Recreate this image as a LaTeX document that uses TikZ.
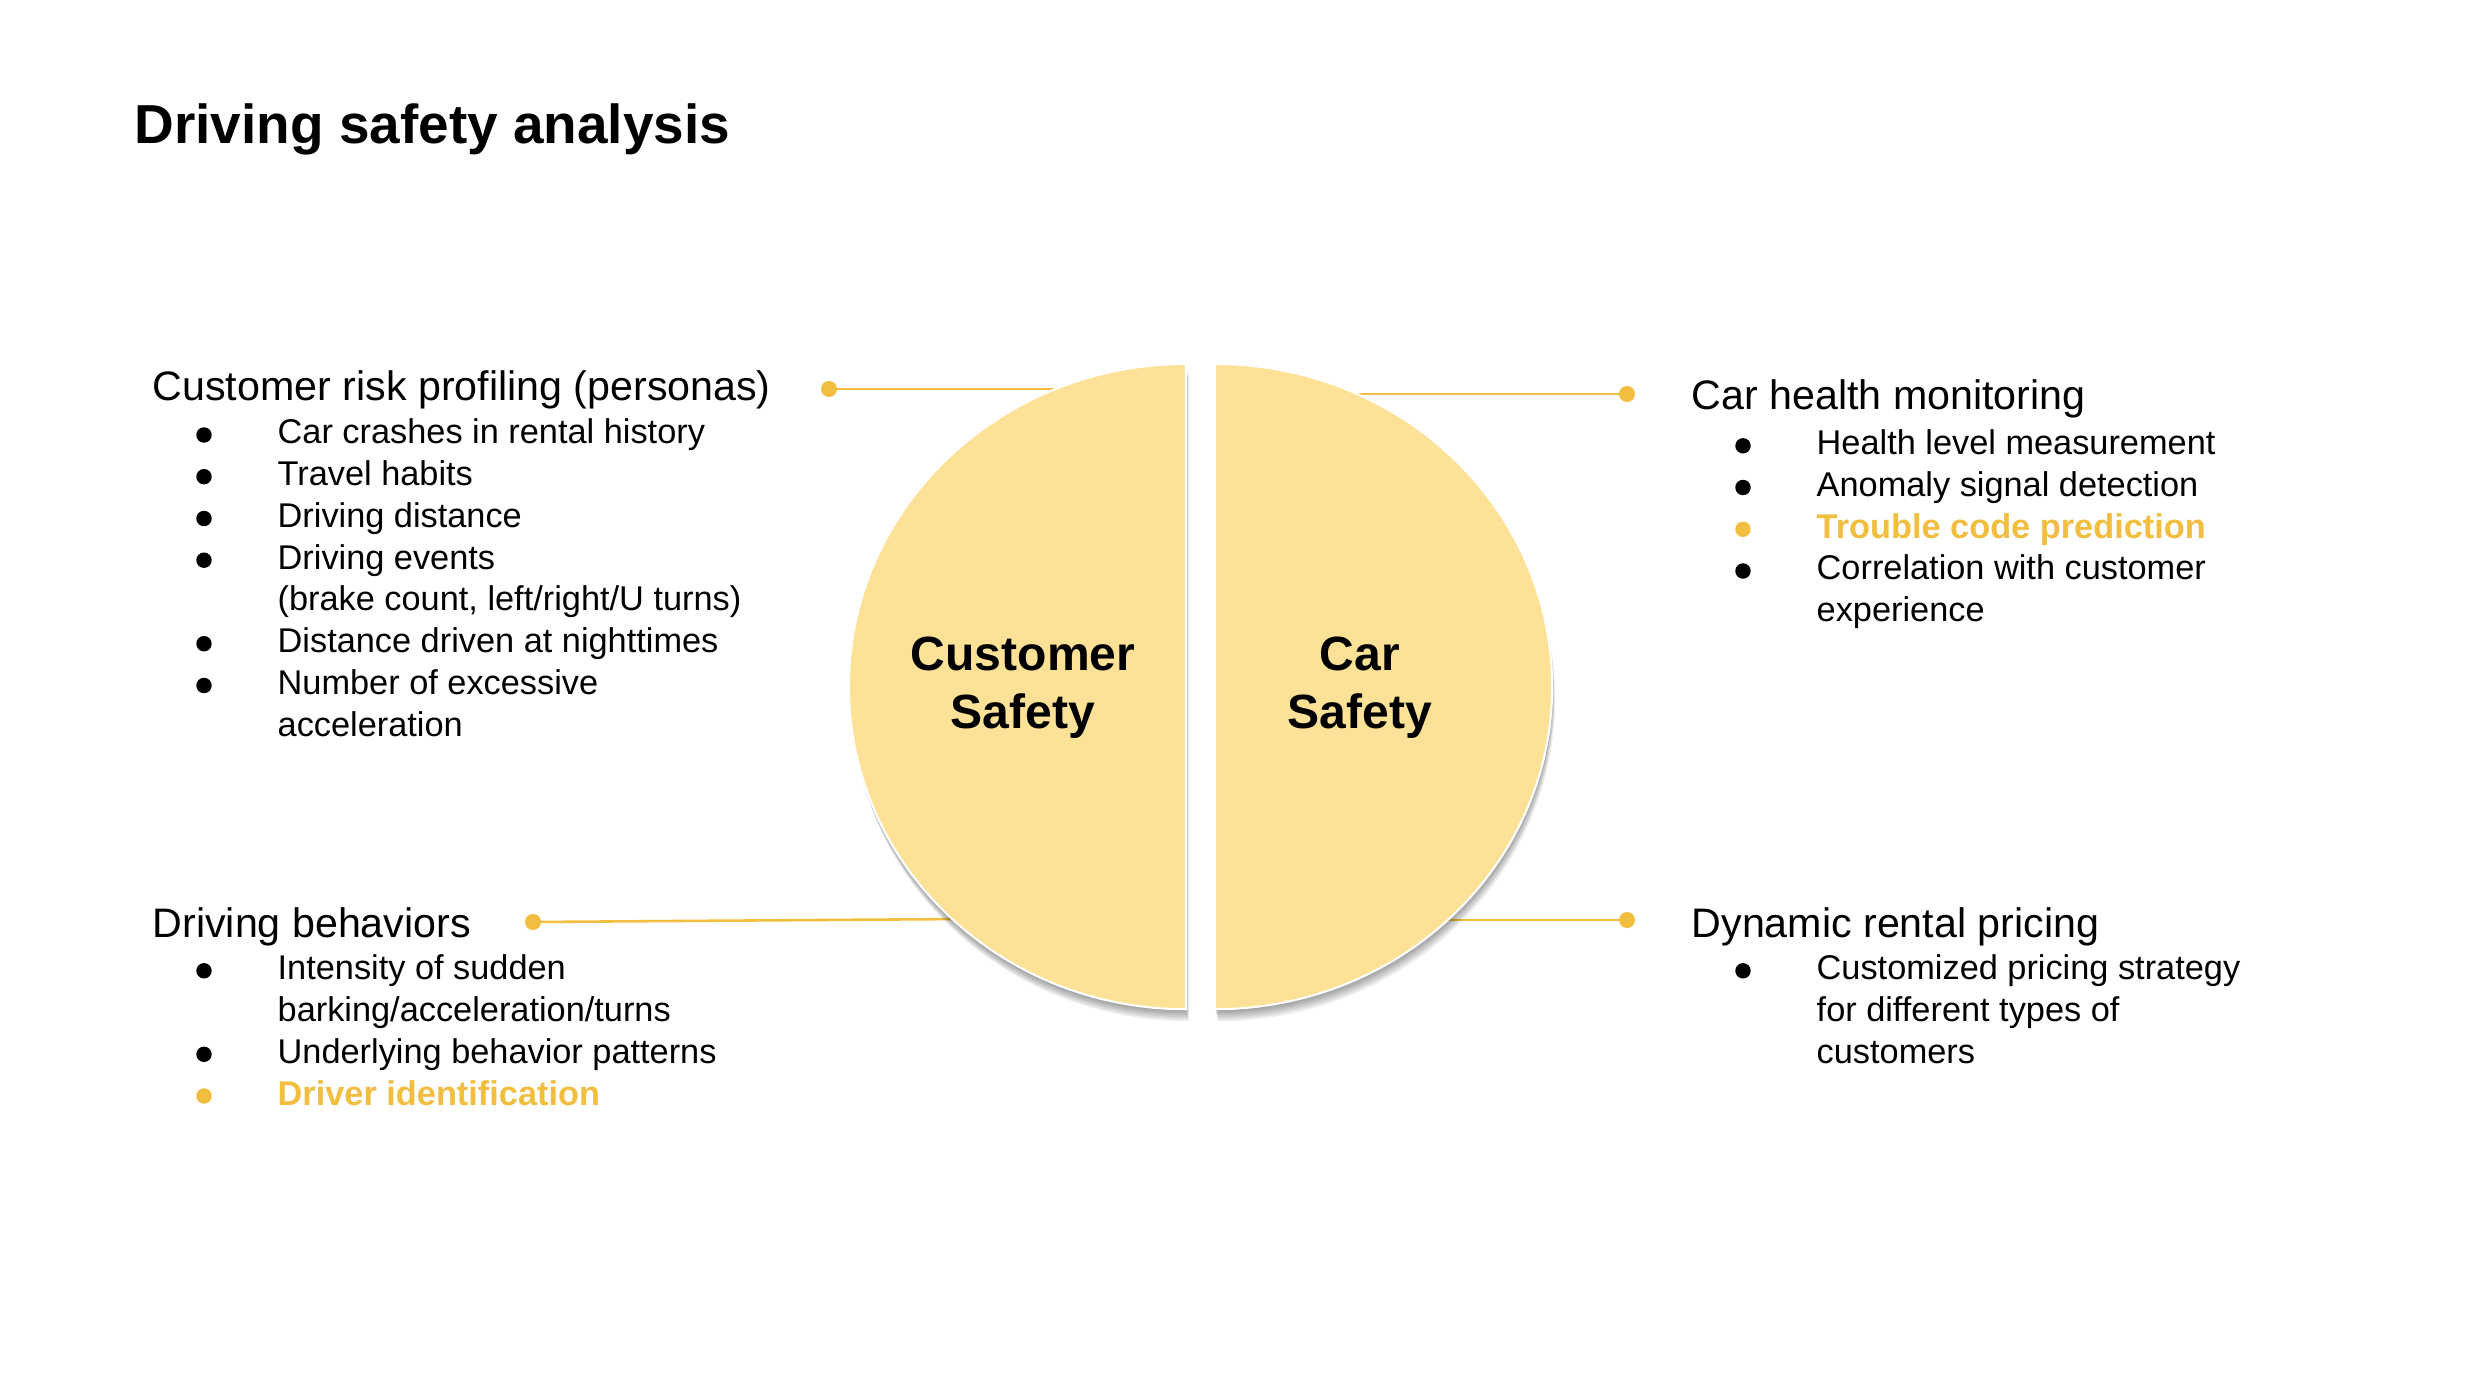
\documentclass[tikz,border=0pt]{standalone}
\usepackage{fontspec}
\usetikzlibrary{calc}
\setmainfont{Liberation Sans}
\definecolor{gold}{RGB}{241,190,64}
\definecolor{paleyellow}{RGB}{252,225,150}
\begin{document}
\begin{tikzpicture}[x=0.010242cm, y=-0.010242cm,
  heading/.style={anchor=base west, inner sep=0pt, font=\fontsize{12}{14}\selectfont},
  itemtext/.style={anchor=base west, inner sep=0pt, font=\fontsize{10}{12}\selectfont},
  hot/.style={text=gold, font=\fontsize{10}{12}\selectfont\bfseries},
  bulletmark/.style={circle, fill=black, inner sep=0pt, minimum size=4.5pt},
  hotmark/.style={bulletmark, fill=gold},
  hub/.style={align=center, inner sep=0pt, font=\fontsize{14}{16.9}\selectfont\bfseries},
  link/.style={draw=gold, line width=0.75pt},
  knob/.style={fill=gold},
  halfshadow/.style={fill=black, opacity=0.07},
]
\useasboundingbox (0,0) rectangle (2480,1388);
\fill[white] (0,0) rectangle (2480,1388);

% title
\node[anchor=base west, inner sep=0pt, font=\fontsize{16}{19}\selectfont\bfseries]
  (title) at (134,144) {Driving safety analysis};

% connector end points
\coordinate (dotTL) at (829,389);
\coordinate (endTL) at (1075,389);
\coordinate (dotBL) at (533,922);
\coordinate (endBL) at (965,919);
\coordinate (dotTR) at (1627,394);
\coordinate (endTR) at (1340,394);
\coordinate (dotBR) at (1627,920);
\coordinate (endBR) at (1435,920);

\draw[link] (dotTL) -- (endTL);
\draw[link] (dotBL) -- (endBL);
\draw[link] (dotTR) -- (endTR);
\draw[link] (dotBR) -- (endBR);
\foreach \d in {dotTL,dotBL,dotTR,dotBR} \fill[knob] (\d) circle (8);

% soft shadow under the two halves
\foreach \dx/\dy in {0/2,1/4,1/6,2/8,2/10,3/12} {
  \fill[halfshadow] ($(1186,364)+(\dx,\dy)$) arc[start angle=90, end angle=270, x radius=3.4516cm, y radius=3.3030cm] -- cycle;
  \fill[halfshadow] ($(1215,364)+(\dx,\dy)$) arc[start angle=90, end angle=-90, x radius=3.4516cm, y radius=3.3030cm] -- cycle;
}

% the two halves
\path[fill=paleyellow, draw=white, line width=0.6pt]
  (1186,364) arc[start angle=90, end angle=270, x radius=3.4516cm, y radius=3.3030cm] -- cycle;
\path[fill=paleyellow, draw=white, line width=0.6pt]
  (1215,364) arc[start angle=90, end angle=-90, x radius=3.4516cm, y radius=3.3030cm] -- cycle;

\node[hub] (custsafe) at (1023,688) {Customer\\Safety};
\node[hub] (carsafe) at (1360,688) {Car\\Safety};

% customer risk profiling
\node[heading] (riskhead) at (152,401) {Customer risk profiling (personas)};
\node[bulletmark] (rb1) at (204,435) {};
\node[itemtext] (r1) at (277,444) {Car crashes in rental history};
\node[bulletmark] (rb2) at (204,476.7) {};
\node[itemtext] (r2) at (277,485.7) {Travel habits};
\node[bulletmark] (rb3) at (204,518.5) {};
\node[itemtext] (r3) at (277,527.5) {Driving distance};
\node[bulletmark] (rb4) at (204,560.2) {};
\node[itemtext] (r4) at (277,569.2) {Driving events};
\node[itemtext] (r4b) at (277,611) {(brake count, left/right/U turns)};
\node[bulletmark] (rb5) at (204,643.7) {};
\node[itemtext] (r5) at (277,652.7) {Distance driven at nighttimes};
\node[bulletmark] (rb6) at (204,685.5) {};
\node[itemtext] (r6) at (277,694.5) {Number of excessive};
\node[itemtext] (r6b) at (277,736.2) {acceleration};

% driving behaviors
\node[heading] (behhead) at (152,937) {Driving behaviors};
\node[bulletmark] (bb1) at (204,970.8) {};
\node[itemtext] (b1) at (277,979.8) {Intensity of sudden};
\node[itemtext] (b1b) at (277,1021.5) {barking/acceleration/turns};
\node[bulletmark] (bb2) at (204,1054.3) {};
\node[itemtext] (b2) at (277,1063.3) {Underlying behavior patterns};
\node[hotmark] (bb3) at (204,1096) {};
\node[itemtext, hot] (b3) at (277,1105) {Driver identification};

% car health monitoring
\node[heading] (healthhead) at (1691,410) {Car health monitoring};
\node[bulletmark] (hb1) at (1743,445.8) {};
\node[itemtext] (h1) at (1816,454.8) {Health level measurement};
\node[bulletmark] (hb2) at (1743,487.5) {};
\node[itemtext] (h2) at (1816,496.5) {Anomaly signal detection};
\node[hotmark] (hb3) at (1743,529.3) {};
\node[itemtext, hot] (h3) at (1816,538.3) {Trouble code prediction};
\node[bulletmark] (hb4) at (1743,571) {};
\node[itemtext] (h4) at (1816,580) {Correlation with customer};
\node[itemtext] (h4b) at (1816,621.8) {experience};

% dynamic rental pricing
\node[heading] (pricehead) at (1691,937) {Dynamic rental pricing};
\node[bulletmark] (pb1) at (1743,970.8) {};
\node[itemtext] (p1) at (1816,979.8) {Customized pricing strategy};
\node[itemtext] (p1b) at (1816,1021.5) {for different types of};
\node[itemtext] (p1c) at (1816,1063.3) {customers};
\end{tikzpicture}
\end{document}
